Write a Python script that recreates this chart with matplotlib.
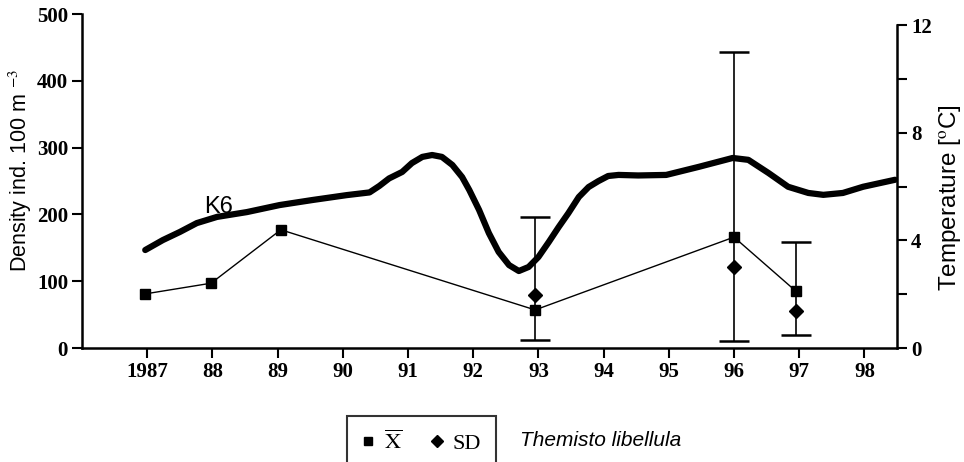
import matplotlib.pyplot as plt
from matplotlib.lines import Line2D

# density of Themisto libellula (left axis)
years = [1986.97, 1987.98, 1989.05, 1992.95, 1996.0, 1996.95]
mean = [81, 97, 177, 57, 166, 85]
sd_years = [1992.95, 1996.0, 1996.95]
sd = [79, 121, 56]
err_years = [1992.95, 1996.0, 1996.95]
err_mean = [57, 166, 85]
err_lo = [12, 11, 20]
err_hi = [196, 443, 159]

# temperature curve K6 (right axis, deg C)
t_years = [1986.97, 1987.24, 1987.5, 1987.76, 1988.07, 1988.53, 1989.03, 1989.54,
           1990.06, 1990.41, 1990.56, 1990.71, 1990.91, 1991.06, 1991.22, 1991.37,
           1991.52, 1991.68, 1991.83, 1991.94, 1992.09, 1992.24, 1992.39, 1992.55,
           1992.7, 1992.85, 1993.0, 1993.16, 1993.31, 1993.46, 1993.62, 1993.77,
           1993.92, 1994.07, 1994.23, 1994.53, 1994.96, 1995.46, 1995.98, 1996.22,
           1996.53, 1996.83, 1997.14, 1997.37, 1997.67, 1997.98, 1998.47]
temp = [3.64, 4.01, 4.31, 4.64, 4.87, 5.05, 5.31, 5.5,
        5.68, 5.78, 6.02, 6.3, 6.54, 6.87, 7.1, 7.17,
        7.1, 6.8, 6.35, 5.87, 5.13, 4.27, 3.57, 3.08,
        2.86, 3.01, 3.38, 3.94, 4.49, 5.01, 5.61, 5.98,
        6.2, 6.39, 6.43, 6.41, 6.43, 6.73, 7.06, 6.99,
        6.5, 5.99, 5.76, 5.69, 5.76, 5.99, 6.25]

xticks = [1987, 1988, 1989, 1990, 1991, 1992, 1993, 1994, 1995, 1996, 1997, 1998]
xlabels = ["1987", "88", "89", "90", "91", "92", "93", "94", "95", "96", "97", "98"]

plt.rcParams['mathtext.fontset'] = 'stix'
tickfont = dict(family='Liberation Serif', weight='bold', size=15)

fig = plt.figure(figsize=(9.64, 4.62), dpi=100)
ax = fig.add_axes([82/964, 1-348/462, (897-82)/964, (348-14)/462])
ax2 = ax.twinx()

ax.plot(years, mean, color='black', lw=1, marker='s', ms=7, zorder=3)
ax.errorbar(err_years, err_mean,
            yerr=[[m-l for m, l in zip(err_mean, err_lo)], [h-m for m, h in zip(err_mean, err_hi)]],
            fmt='none', ecolor='black', elinewidth=1.2, capsize=11, capthick=1.8)
ax.plot(sd_years, sd, ls='none', color='black', marker='D', ms=7, zorder=4)
ax.text(1988.1, 211, "K6", family='Liberation Sans', fontsize=17, ha='center', va='center')

ax2.plot(t_years, temp, color='black', lw=4.5, solid_capstyle='round',
         solid_joinstyle='round', clip_on=False)

ax.set_xlim(1986, 1998.5)
ax.set_ylim(0, 500)
ax2.set_ylim(0, 12*334/323)

ax.set_xticks(xticks)
ax.set_xticklabels(xlabels, fontdict=tickfont)
ax.set_yticks([0, 100, 200, 300, 400, 500])
ax.set_yticklabels(["0", "100", "200", "300", "400", "500"], fontdict=tickfont)
ax2.set_yticks([0, 4, 8, 12])
ax2.set_yticklabels(["0", "4", "8", "12"], fontdict=tickfont)
ax2.set_yticks([2, 6, 10], minor=True)

for a in (ax, ax2):
    a.tick_params(direction='out', length=7, width=1.5, pad=3)
    a.tick_params(which='minor', direction='out', length=7, width=1.5)
    a.spines['top'].set_visible(False)
    for s in a.spines.values():
        s.set_linewidth(1.8)
ax.spines['right'].set_visible(False)
ax2.spines['left'].set_visible(False)
ax2.spines['bottom'].set_visible(False)
ax2.spines['right'].set_bounds(0, 12)

ax.set_ylabel("Density ind. 100 m $^{-3}$", family='Liberation Sans', fontsize=15.5, labelpad=2)
ax.yaxis.label.set_y(0.533)
ax2.set_ylabel("Temperature [$^{\\mathrm{o}}$C]", family='Liberation Sans', fontsize=17.5, labelpad=4)
ax2.yaxis.label.set_y(0.449)

handles = [Line2D([], [], ls='none', marker='s', ms=6, color='black'),
           Line2D([], [], ls='none', marker='D', ms=6, color='black')]
leg = fig.legend(handles, [r"$\overline{\mathrm{X}}$", "SD"], ncol=2,
                 loc='upper left', bbox_to_anchor=(347/964, 1-416/462),
                 prop=dict(family='Liberation Serif', size=16),
                 frameon=True, fancybox=False, edgecolor='black',
                 handlelength=0.6, handletextpad=0.4, columnspacing=1.3,
                 borderpad=0.65, borderaxespad=0)
leg.get_frame().set_linewidth(1.5)
fig.text(520/964, 1-441/462, "Themisto libellula", family='Liberation Sans',
         style='italic', fontsize=15, va='center')

fig.savefig("out.png", dpi=100)
